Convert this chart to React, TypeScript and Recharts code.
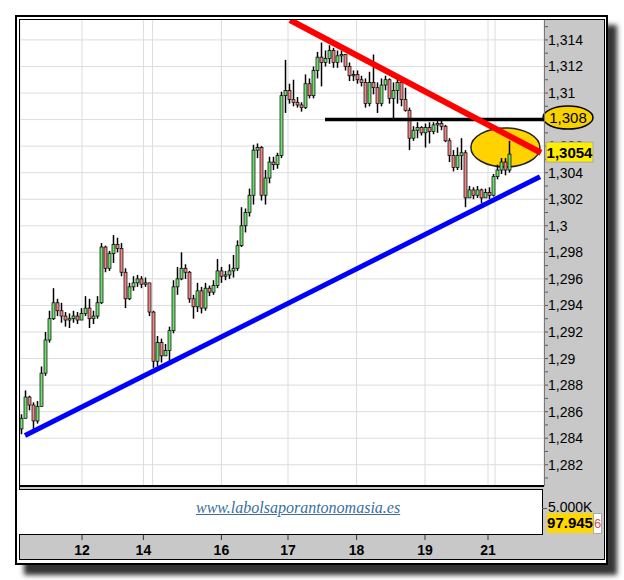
import React from "react"
import { ComposedChart, Bar, XAxis, YAxis, CartesianGrid, ReferenceLine, ReferenceDot } from "recharts"

// EUR/USD style intraday bars (one bar per slot)
const firstOpen = 1.2847
const closes = [
  1.2855, 1.2871, 1.2865, 1.2853, 1.2864, 1.2889, 1.2914, 1.293, 1.2942, 1.2936,
  1.2932, 1.2929, 1.293, 1.2932, 1.2929, 1.2934, 1.2938, 1.293, 1.2932, 1.2942,
  1.2984, 1.2968, 1.2979, 1.2986, 1.2983, 1.2965, 1.2945, 1.2954, 1.2957, 1.296,
  1.2956, 1.2957, 1.2935, 1.2898, 1.2912, 1.2902, 1.2906, 1.2921, 1.2954, 1.296,
  1.2968, 1.2965, 1.2945, 1.2939, 1.2951, 1.2938, 1.2953, 1.295, 1.2955, 1.2966,
  1.2962, 1.2963, 1.2966, 1.2968, 1.2985, 1.3, 1.301, 1.3023, 1.3057, 1.3059,
  1.3023, 1.3036, 1.3048, 1.3046, 1.3053, 1.3098, 1.3102, 1.3095, 1.3093, 1.3091,
  1.3089, 1.3107, 1.3098, 1.3117, 1.3127, 1.3123, 1.3126, 1.3132, 1.3123, 1.3128,
  1.3129, 1.312, 1.3113, 1.3114, 1.311, 1.3108, 1.3092, 1.3108, 1.3104, 1.3092,
  1.3106, 1.311, 1.3096, 1.3102, 1.3108, 1.3095, 1.3087, 1.3066, 1.3072, 1.3074,
  1.307, 1.3074, 1.3071, 1.3076, 1.3077, 1.3075, 1.3064, 1.3053, 1.3044, 1.3053,
  1.3055, 1.3021, 1.3027, 1.3023, 1.3027, 1.3021, 1.3025, 1.3023, 1.3037, 1.3042,
  1.3048, 1.3042, 1.3054,
]
const highs = [
  1.2858, 1.2876, 1.2872, 1.2867, 1.2868, 1.2894, 1.292, 1.2936, 1.2953, 1.2945,
  1.2942, 1.2935, 1.2934, 1.2936, 1.2935, 1.2938, 1.2947, 1.2945, 1.2936, 1.2947,
  1.2987, 1.2985, 1.2981, 1.2993, 1.2991, 1.2987, 1.2968, 1.2957, 1.2962, 1.2963,
  1.2962, 1.2961, 1.2957, 1.2936, 1.2917, 1.2915, 1.2911, 1.2924, 1.2959, 1.2969,
  1.298, 1.2971, 1.2966, 1.2948, 1.2957, 1.2954, 1.2957, 1.2955, 1.2959, 1.2975,
  1.2969, 1.2966, 1.2971, 1.2978, 1.2989, 1.3014, 1.3013, 1.3028, 1.3061, 1.3062,
  1.306, 1.3042, 1.3052, 1.3052, 1.3055, 1.3101, 1.3125, 1.3107, 1.311, 1.3097,
  1.3093, 1.3114, 1.3111, 1.312, 1.3131, 1.3138, 1.3132, 1.3136, 1.3134, 1.3132,
  1.3132, 1.3126, 1.3123, 1.3117, 1.3117, 1.3113, 1.3111, 1.3116, 1.3129, 1.3108,
  1.3111, 1.3113, 1.3111, 1.3108, 1.3111, 1.3107, 1.3104, 1.3089, 1.3075, 1.3078,
  1.3075, 1.3077, 1.3078, 1.3078, 1.3079, 1.3079, 1.3076, 1.3066, 1.3057, 1.3059,
  1.3066, 1.3057, 1.303, 1.3029, 1.303, 1.3028, 1.3028, 1.3029, 1.3039, 1.3046,
  1.3051, 1.3051, 1.3064,
]
const lows = [
  1.2843, 1.2855, 1.2861, 1.2846, 1.2851, 1.2864, 1.2887, 1.2912, 1.2929, 1.2932,
  1.2927, 1.2924, 1.2923, 1.2927, 1.2926, 1.2929, 1.2932, 1.2923, 1.2926, 1.293,
  1.2941, 1.2965, 1.2966, 1.2972, 1.298, 1.2962, 1.2938, 1.2944, 1.2951, 1.2954,
  1.2953, 1.2954, 1.2932, 1.2893, 1.2894, 1.2897, 1.2902, 1.2898, 1.2919, 1.2948,
  1.2959, 1.296, 1.2942, 1.293, 1.2935, 1.2934, 1.2936, 1.2947, 1.2948, 1.2953,
  1.2957, 1.2959, 1.296, 1.2961, 1.2966, 1.2984, 1.2995, 1.3007, 1.3016, 1.3051,
  1.3019, 1.3016, 1.3032, 1.3042, 1.3043, 1.3051, 1.3085, 1.3092, 1.309, 1.3089,
  1.3086, 1.3088, 1.3096, 1.3096, 1.3111, 1.3105, 1.312, 1.3122, 1.3119, 1.3119,
  1.3123, 1.3117, 1.3109, 1.3109, 1.3107, 1.3105, 1.3089, 1.309, 1.3099, 1.3085,
  1.309, 1.3102, 1.3092, 1.3081, 1.3092, 1.309, 1.3086, 1.3057, 1.3064, 1.3066,
  1.3068, 1.3059, 1.3062, 1.3069, 1.307, 1.3072, 1.3063, 1.3048, 1.3041, 1.3042,
  1.3042, 1.3014, 1.3021, 1.302, 1.3021, 1.3017, 1.3021, 1.302, 1.3022, 1.3035,
  1.3039, 1.3038, 1.304,
]

// session separators on the bar-index axis, with their day labels
const dayTicks = [15.25, 30.6, 32.9, 50.1, 66.75, 83.9, 101, 116.75, 118.5]
const dayLabels = ["12", "14", "", "16", "17", "18", "19", "21", ""]

const priceTicks = [
  1.281, 1.282, 1.283, 1.284, 1.285, 1.286, 1.287, 1.288, 1.289, 1.29, 1.291, 1.292,
  1.293, 1.294, 1.295, 1.296, 1.297, 1.298, 1.299, 1.3, 1.301, 1.302, 1.303, 1.304,
  1.305, 1.306, 1.307, 1.308, 1.309, 1.31, 1.311, 1.312, 1.313, 1.314, 1.315,
]
const priceGrid = [
  1.282, 1.284, 1.286, 1.288, 1.29, 1.292, 1.294, 1.296, 1.298, 1.3, 1.302, 1.304,
  1.306, 1.308, 1.31, 1.312, 1.314,
]

const resistance = 1.308
const resistanceFrom = 76
const lastPrice = 1.3054
const redTrend = [{ x: 67.25, y: 1.3155 }, { x: 130, y: 1.3055 }]
const blueTrend = [{ x: 1, y: 1.2842 }, { x: 129.75, y: 1.3037 }]
const highlight = { x: 121.1, y: 1.3059 }

const xDomain = [-0.25, 130.75]
const yDomain = [1.2804, 1.3155]

const data = closes.map((close, i) => {
  const open = i === 0 ? firstOpen : closes[i - 1]
  const high = Math.max(highs[i], open, close)
  const low = Math.min(lows[i], open, close)
  return { i, open, close, high, low, range: [low, high] }
})

const font = '"Liberation Sans", Arial, sans-serif'

function Candle(props: any) {
  let { x, y, width, height, payload } = props
  if (height < 0) {
    y = y + height
    height = -height
  }
  const { open, close, high, low } = payload
  const k = height / (high - low || 1e-9)
  const top = y + (high - Math.max(open, close)) * k
  const bot = y + (high - Math.min(open, close)) * k
  const cx = x + width / 2
  return (
    <g>
      <line x1={cx} x2={cx} y1={y} y2={y + height} stroke="#000" strokeWidth={1.5} />
      <rect
        x={x}
        y={top}
        width={width}
        height={Math.max(bot - top, 1)}
        fill={close >= open ? "#6fe06f" : "#f08585"}
        stroke="#000"
        strokeWidth={0.7}
      />
    </g>
  )
}

function DayTick(props: any) {
  const { x, y, payload } = props
  const label = dayLabels[dayTicks.indexOf(payload.value)]
  if (!label) return null
  return (
    <g>
      <line x1={x} x2={x} y1={y + 49} y2={y + 54} stroke="#333" strokeWidth={1} />
      <text x={x} y={y + 64} textAnchor="middle" dominantBaseline="central" fontFamily={font} fontSize={14} fontWeight="bold" fill="#000">
        {label}
      </text>
    </g>
  )
}

function PriceTick(props: any) {
  const { x, y, payload } = props
  const v = payload.value
  // the resistance level carries its own marker on the axis
  const major = Math.round(v * 1000) % 2 === 0 && v !== resistance
  return (
    <g>
      <line x1={x - 4} x2={x} y1={y} y2={y} stroke="#555" strokeWidth={1} />
      {major && (
        <text x={x} y={y} dominantBaseline="central" fontFamily={font} fontSize={14} fill="#000">
          {String(v).replace(".", ",")}
        </text>
      )}
    </g>
  )
}

export default function App() {
  return (
    <div style={{ position: "absolute", left: 0, top: 0, width: 624, height: 580, background: "#fff", fontFamily: font }}>
      <div
        style={{
          position: "absolute",
          left: 15,
          top: 15,
          width: 589,
          height: 546,
          border: "2px solid #000",
          background: "#fff",
          boxShadow: "9px 10px 5px rgba(30,30,30,0.9)",
        }}
      />
      <div style={{ position: "absolute", left: 20, top: 20, width: 584, height: 540, background: "#c8c8c8" }} />
      <div style={{ position: "absolute", left: 20, top: 20, width: 524, height: 466, background: "#fff" }} />
      <div style={{ position: "absolute", left: 20, top: 20 }}>
        <ComposedChart width={584} height={540} data={data} margin={{ top: 0, right: 0, bottom: 0, left: 0 }}>
          <CartesianGrid stroke="#dcdcdc" horizontalValues={priceGrid} />
          <XAxis
            dataKey="i"
            type="number"
            domain={xDomain}
            allowDataOverflow
            ticks={dayTicks}
            interval={0}
            height={74}
            axisLine={false}
            tickLine={false}
            tickSize={0}
            tickMargin={0}
            tick={<DayTick />}
          />
          <YAxis
            orientation="right"
            type="number"
            domain={yDomain}
            allowDataOverflow
            ticks={priceTicks}
            interval={0}
            width={60}
            axisLine={false}
            tickLine={false}
            tickSize={4}
            tickMargin={0}
            tick={<PriceTick />}
          />
          <ReferenceDot
            x={highlight.x}
            y={highlight.y}
            ifOverflow="visible"
            zIndex={250}
            shape={(p: any) => <ellipse cx={p.cx} cy={p.cy} rx={34.5} ry={19.5} fill="#ffd200" stroke="#222" strokeWidth={1.5} />}
          />
          <Bar dataKey="range" barSize={3} zIndex={300} shape={(p: any) => <Candle {...p} />} isAnimationActive={false} />
          <ReferenceLine segment={blueTrend} stroke="#0000ff" strokeWidth={5} ifOverflow="visible" zIndex={450} />
          <ReferenceLine
            segment={[{ x: resistanceFrom, y: resistance }, { x: xDomain[1], y: resistance }]}
            stroke="#000"
            strokeWidth={3.5}
            ifOverflow="visible"
            zIndex={450}
          />
          <ReferenceLine segment={redTrend} stroke="#ff0000" strokeWidth={6} ifOverflow="visible" zIndex={460} />
          <ReferenceDot
            x={xDomain[1]}
            y={resistance}
            ifOverflow="visible"
            zIndex={2100}
            shape={(p: any) => (
              <g>
                <ellipse cx={p.cx + 24} cy={p.cy - 2} rx={25} ry={11.5} fill="#f7d100" stroke="#000" strokeWidth={1.5} />
                <text x={p.cx + 24} y={p.cy - 2} textAnchor="middle" dominantBaseline="central" fontFamily={font} fontSize={15} fill="#000">
                  {String(resistance).replace(".", ",")}
                </text>
              </g>
            )}
          />
          <ReferenceDot
            x={xDomain[1]}
            y={lastPrice}
            ifOverflow="visible"
            zIndex={2100}
            shape={(p: any) => (
              <g>
                <rect x={p.cx + 2} y={p.cy - 12} width={47} height={20} fill="#ffee00" stroke="#aaa" strokeWidth={1} />
                <text x={p.cx + 25.5} y={p.cy - 2} textAnchor="middle" dominantBaseline="central" fontFamily={font} fontSize={15} fontWeight="bold" fill="#000">
                  {String(lastPrice).replace(".", ",")}
                </text>
              </g>
            )}
          />
        </ComposedChart>
      </div>
      {/* frame inner line and panel separators */}
      <div style={{ position: "absolute", left: 18.5, top: 18.5, width: 584, height: 539, border: "1.5px solid #000", pointerEvents: "none" }} />
      <div style={{ position: "absolute", left: 543.5, top: 20, width: 1, height: 466, background: "#777" }} />
      <div style={{ position: "absolute", left: 20, top: 485, width: 524, height: 2, background: "#000" }} />
      <div
        style={{
          position: "absolute",
          left: 19,
          top: 489,
          width: 523,
          height: 44,
          background: "#fff",
          border: "1.5px solid #000",
          borderLeft: "none",
        }}
      >
        <span
          style={{
            position: "absolute",
            left: 177,
            top: 9,
            fontFamily: '"Liberation Serif", "DejaVu Serif", serif',
            fontStyle: "italic",
            fontSize: 16,
            color: "#3a6e9c",
            textDecoration: "underline",
          }}
        >
          www.labolsaporantonomasia.es
        </span>
      </div>
      <div style={{ position: "absolute", left: 548, top: 499, fontSize: 14, color: "#000" }}>5.000K</div>
      <div style={{ position: "absolute", left: 542, top: 508, width: 5, height: 1, background: "#555" }} />
      <div
        style={{
          position: "absolute",
          left: 547,
          top: 513,
          width: 46,
          height: 20,
          background: "#ffd800",
          fontSize: 15,
          fontWeight: "bold",
          lineHeight: "20px",
          textAlign: "center",
        }}
      >
        97.945
      </div>
      <div
        style={{
          position: "absolute",
          left: 593,
          top: 513,
          width: 7,
          height: 19,
          background: "#fff",
          border: "0.5px solid #aaa",
          fontSize: 13,
          color: "#e05050",
          lineHeight: "19px",
        }}
      >
        6
      </div>
    </div>
  )
}
